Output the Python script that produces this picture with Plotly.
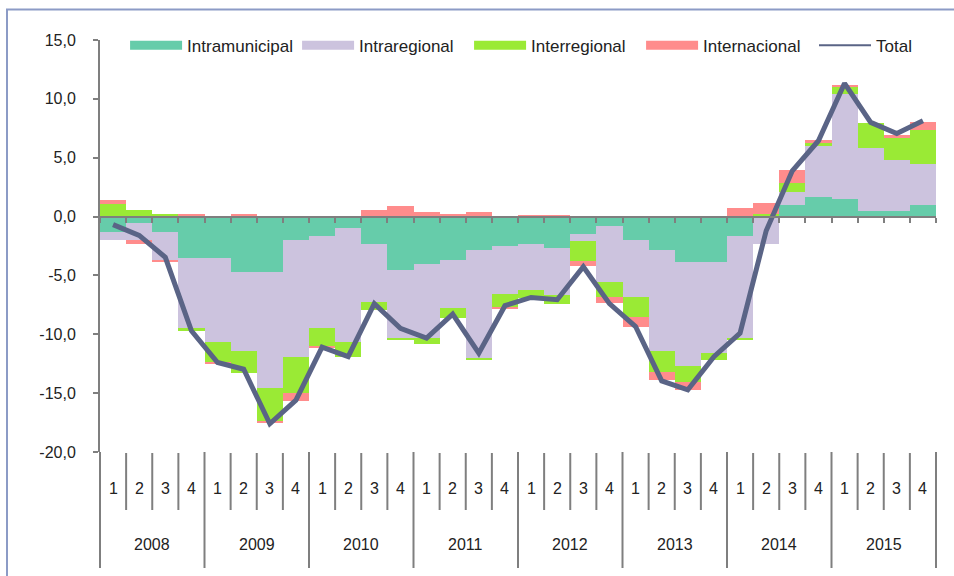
import plotly.graph_objects as go

years = ["2008", "2009", "2010", "2011", "2012", "2013", "2014", "2015"]
quarters = ["1", "2", "3", "4"]

intramunicipal = [-1.30, -0.57, -1.28, -3.50, -3.50, -4.68, -4.68, -1.96,
                  -1.62, -0.96, -2.30, -4.51, -4.00, -3.66, -2.81, -2.47,
                  -2.36, -2.70, -1.51, -0.83, -2.02, -2.87, -3.89, -3.89,
                  -1.66, 0.00, 1.02, 1.70, 1.53, 0.51, 0.51, 1.02]
intraregional = [-0.68, -1.41, -2.38, -5.98, -7.15, -6.78, -9.85, -10.00,
                 -7.83, -9.67, -4.94, -5.79, -6.30, -4.11, -9.19, -4.11,
                 -3.90, -3.94, -0.57, -4.77, -4.77, -8.51, -8.79, -7.66,
                 -8.66, -2.30, 1.08, 4.31, 8.88, 5.34, 4.31, 3.46]
interregional = [1.08, 0.57, 0.20, -0.28, -1.70, -1.79, -2.83, -3.06,
                 -1.59, -1.33, -0.71, -0.17, -0.51, -0.82, -0.17, -1.13,
                 -0.62, -0.77, -1.70, -1.19, -1.70, -1.81, -1.36, -0.62,
                 -0.14, 0.20, 0.79, 0.20, 0.62, 2.13, 1.84, 2.87]
internacional = [0.34, -0.34, -0.17, 0.20, -0.17, 0.20, -0.20, -0.68,
                 -0.14, 0.00, 0.57, 0.91, 0.40, 0.23, 0.40, -0.17,
                 0.17, 0.17, -0.45, -0.51, -0.85, -0.68, -0.68, 0.00,
                 0.72, 0.99, 1.05, 0.26, 0.17, 0.00, 0.31, 0.65]
total = [-0.68, -1.60, -3.46, -9.70, -12.40, -12.97, -17.60, -15.60,
         -11.10, -11.90, -7.40, -9.50, -10.32, -8.28, -11.60, -7.57,
         -6.87, -7.06, -4.26, -7.40, -9.34, -13.96, -14.72, -11.90,
         -9.90, -1.20, 3.89, 6.44, 11.32, 8.00, 7.06, 8.14]

series_names = ["Intramunicipal", "Intraregional", "Interregional", "Internacional"]
series_values = [intramunicipal, intraregional, interregional, internacional]
colors = ["#66CCAA", "#CCC3DE", "#9AEA35", "#FF8C8C"]
line_color = "#5A6486"

y_ticks = [-20, -15, -10, -5, 0, 5, 10, 15]
y_ticktext = [f"{v:.1f}".replace(".", ",") for v in y_ticks]

n = len(total)
xs = list(range(n))
FONT = "Liberation Sans, Arial, sans-serif"
TXT = "#222222"
GRAY = "#7F7F7F"

fig = go.Figure()
for name, vals, col in zip(series_names, series_values, colors):
    fig.add_trace(go.Bar(x=xs, y=vals, name=name, marker=dict(color=col, line=dict(width=0)),
                         showlegend=False))
fig.add_trace(go.Scatter(x=xs, y=total, mode="lines", name="Total",
                         line=dict(color=line_color, width=5), showlegend=False))
# legend entries
for name, col in zip(series_names, colors):
    fig.add_trace(go.Scatter(x=[None], y=[None], mode="lines", name=name,
                             line=dict(color=col, width=9)))
fig.add_trace(go.Scatter(x=[None], y=[None], mode="lines", name="Total",
                         line=dict(color=line_color, width=2), legend="legend2"))

ymin, ymax = y_ticks[0], y_ticks[-1]
PLOT_H = 412.0
PLOT_W = 836.0


def py(px_below_bottom):
    return -px_below_bottom / PLOT_H


shapes = []
# category dividers below the plot
for i in range(n + 1):
    is_year = (i % len(quarters) == 0)
    shapes.append(dict(type="line", xref="paper", yref="paper",
                       x0=i / n, x1=i / n,
                       y0=0 if is_year else py(1),
                       y1=py(116) if is_year else py(58),
                       line=dict(color=GRAY, width=2)))
# outer frame
shapes.append(dict(type="rect", xref="paper", yref="paper",
                   x0=-93 / PLOT_W, x1=1.03, y0=-0.31, y1=(452 - 9.5) / PLOT_H,
                   line=dict(color="#8C9BC6", width=2), fillcolor="rgba(0,0,0,0)"))

annotations = []
for i in range(n):
    annotations.append(dict(x=i, y=py(36), xref="x", yref="paper", yanchor="middle",
                            text=quarters[i % len(quarters)], showarrow=False,
                            font=dict(family=FONT, size=16, color=TXT)))
for k, yr in enumerate(years):
    annotations.append(dict(x=k * len(quarters) + (len(quarters) - 1) / 2, y=py(92),
                            xref="x", yref="paper", yanchor="middle", text=yr,
                            showarrow=False, font=dict(family=FONT, size=16, color=TXT)))

legend_common = dict(orientation="h", y=1.03, xanchor="left", yanchor="top",
                     bgcolor="rgba(0,0,0,0)", font=dict(family=FONT, size=17, color=TXT),
                     itemwidth=52, tracegroupgap=0)

fig.update_layout(
    width=954, height=576,
    margin=dict(l=100, r=18, t=40, b=124),
    paper_bgcolor="white", plot_bgcolor="white",
    barmode="relative", bargap=0,
    font=dict(family=FONT, size=16, color=TXT),
    showlegend=True,
    legend=dict(x=0.030, entrywidth=105, entrywidthmode="pixels", **legend_common),
    legend2=dict(x=(814 - 100) / PLOT_W, **legend_common),
    xaxis=dict(range=[-0.5, n - 0.5], anchor="free",
               position=(0 - ymin) / (ymax - ymin),
               showline=True, linecolor=GRAY, linewidth=2,
               ticks="outside", ticklen=5, tickwidth=2, tickcolor=GRAY,
               tickvals=[i - 0.5 for i in range(n + 1)], showticklabels=False,
               showgrid=False, zeroline=False, layer="above traces"),
    yaxis=dict(range=[ymin, ymax], tickvals=y_ticks, ticktext=y_ticktext,
               showline=True, linecolor=GRAY, linewidth=2,
               ticks="outside", ticklen=5, tickwidth=2, tickcolor=GRAY,
               ticklabelstandoff=14,
               showgrid=False, zeroline=False,
               tickfont=dict(family=FONT, size=16, color=TXT)),
    shapes=shapes,
    annotations=annotations,
)

fig.write_html("out.html", config={"displayModeBar": False},
               post_script="document.body.style.margin='0';document.body.style.overflow='hidden';")
